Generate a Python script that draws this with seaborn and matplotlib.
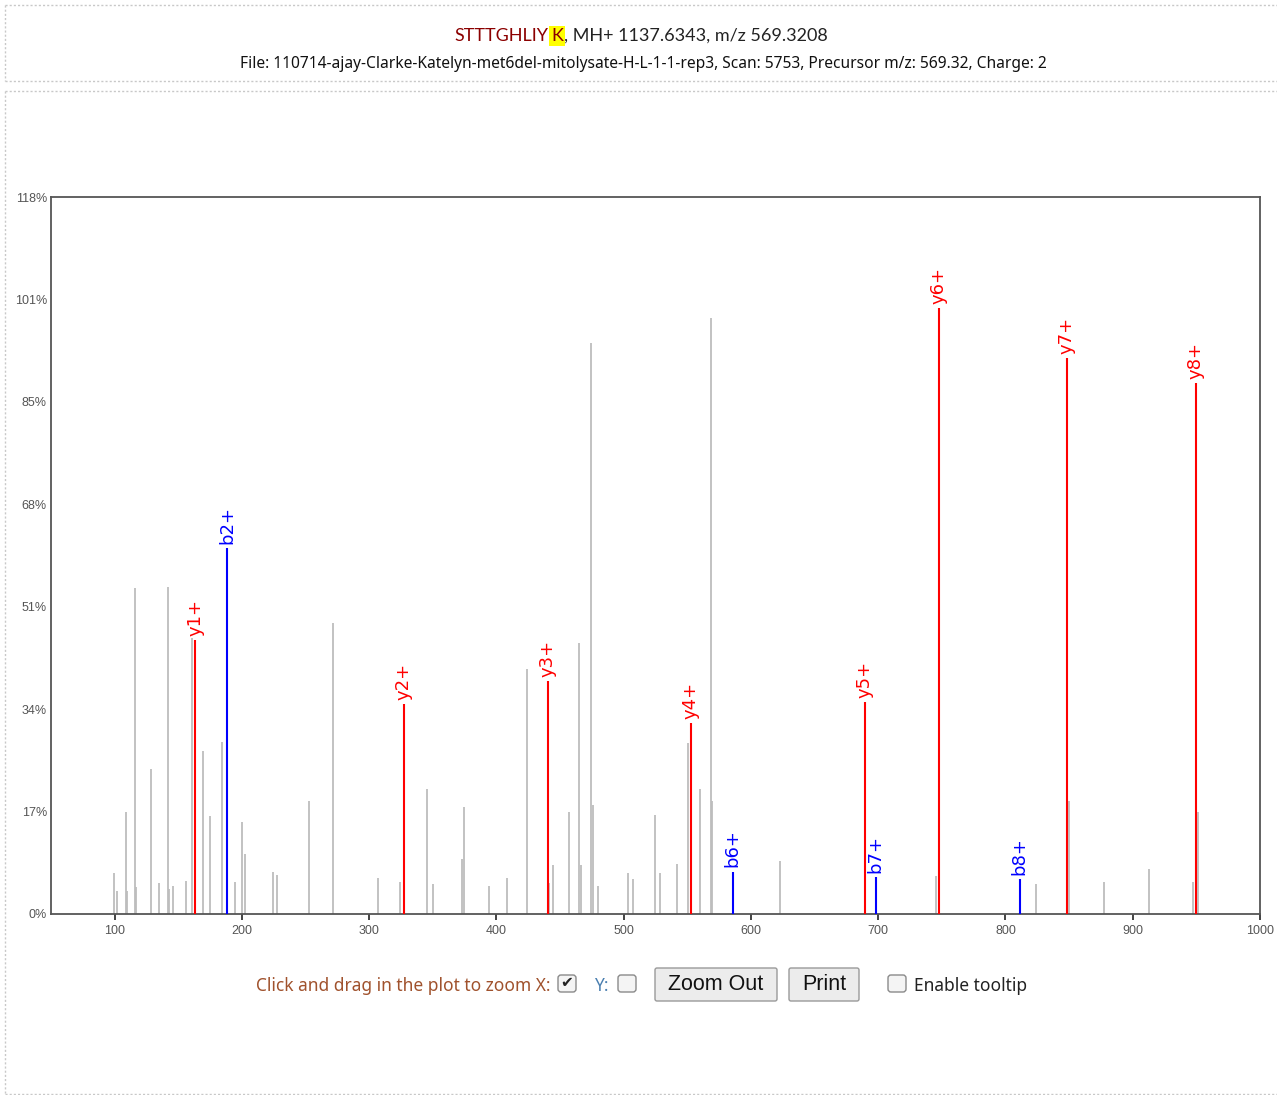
import matplotlib
matplotlib.use("Agg")
import matplotlib.pyplot as plt
import seaborn as sns
import numpy as np
import pandas as pd
from matplotlib.patches import FancyBboxPatch

# unmatched peaks: m/z and relative intensity (%)
peak_mz = [99.6, 102.2, 109.0, 110.1, 115.9, 116.9, 128.7, 135.2, 141.8, 143.1,
           145.8, 156.2, 160.7, 169.8, 175.1, 184.3, 194.7, 200.0, 202.6, 224.8,
           227.5, 252.9, 271.5, 306.6, 323.9, 345.1, 350.4, 373.0, 374.2, 393.9,
           408.6, 424.1, 441.6, 444.2, 457.3, 465.0, 466.2, 474.6, 475.7, 479.9,
           503.5, 507.4, 524.7, 528.6, 542.0, 550.9, 560.3, 568.4, 569.7, 622.6,
           745.1, 824.2, 849.6, 877.4, 912.7, 947.1, 951.3]
peak_int = [6.8, 3.8, 16.8, 3.8, 53.8, 4.5, 24.0, 5.1, 54.0, 4.1,
            4.6, 5.4, 45.5, 26.9, 16.2, 28.4, 5.2, 15.2, 9.9, 7.0,
            6.4, 18.7, 48.0, 5.9, 5.3, 20.7, 4.9, 9.1, 17.6, 4.6,
            5.9, 40.5, 5.1, 8.1, 16.8, 44.7, 8.1, 94.3, 18.0, 4.7,
            6.8, 5.7, 16.4, 6.8, 8.2, 28.2, 20.6, 98.4, 18.7, 8.7,
            6.3, 4.9, 18.7, 5.2, 7.4, 5.2, 16.8]

# matched fragment ions
ion_labels = ["y1+", "b2+", "y2+", "y3+", "y4+", "b6+", "y5+", "b7+", "y6+", "b8+", "y7+", "y8+"]
ion_mz = [163.3, 188.2, 327.0, 440.3, 552.7, 585.7, 689.5, 697.9, 747.6, 811.3, 848.3, 949.7]
ion_int = [45.2, 60.4, 34.7, 38.4, 31.5, 7.0, 35.0, 6.1, 100.0, 5.7, 91.8, 87.7]
ion_type = ["y", "b", "y", "y", "y", "b", "y", "b", "y", "b", "y", "y"]

x_ticks = [100, 200, 300, 400, 500, 600, 700, 800, 900, 1000]
y_max = 118.35

W, H = 1277, 1095


def main():
    sns.set_style("white")
    plt.rcParams["font.family"] = ["Liberation Sans", "DejaVu Sans"]

    peaks = pd.DataFrame({"mz": peak_mz, "intensity": peak_int})
    ions = pd.DataFrame({"label": ion_labels, "mz": ion_mz, "intensity": ion_int, "type": ion_type})
    palette = {"y": "#ff0000", "b": "#0000ff"}

    fig = plt.figure(figsize=(W / 100, H / 100), dpi=100)

    # page-like overlay in pixel coordinates
    ov = fig.add_axes([0, 0, 1, 1], zorder=-1)
    ov.set_xlim(0, W)
    ov.set_ylim(H, 0)
    ov.axis("off")

    dot = dict(color="#c8c8c8", lw=1, ls=(0, (1.5, 1.5)))
    ov.plot([5, W], [5, 5], **dot)
    ov.plot([5, W], [81, 81], **dot)
    ov.plot([5, 5], [5, 81], **dot)
    ov.plot([5, W], [91, 91], **dot)
    ov.plot([5, 5], [91, 1094], **dot)
    ov.plot([5, W], [1094, 1094], **dot)

    ax = fig.add_axes([51 / W, 1 - 914 / H, (1260 - 51) / W, (914 - 197) / H])

    ax.vlines(peaks["mz"], 0, peaks["intensity"], color="#bdbdbd", lw=1.3, zorder=2)
    for _, r in ions.iterrows():
        c = palette[r["type"]]
        ax.vlines(r["mz"], 0, r["intensity"], color=c, lw=1.5, zorder=3)
        ax.annotate(r["label"], (r["mz"], r["intensity"]), xytext=(0, 3),
                    textcoords="offset points", rotation=90, ha="center", va="bottom",
                    color=c, fontsize=13, family="DejaVu Sans")

    ax.set_xlim(50, 1000)
    ax.set_ylim(0, y_max)
    ax.set_xticks(x_ticks)
    ax.set_xticklabels([str(t) for t in x_ticks])
    yt = np.linspace(0, y_max, 8)
    ax.set_yticks(yt)
    ax.set_yticklabels([f"{t:.0f}%" for t in yt])
    ax.tick_params(axis="x", length=4, width=1.2, color="#222222", labelsize=9,
                   labelcolor="#555555", pad=4, direction="out", bottom=True)
    ax.tick_params(axis="y", length=0, labelsize=9, labelcolor="#555555", pad=3)
    for s in ax.spines.values():
        s.set_color("#555555")
        s.set_linewidth(1.3)

    # header
    fig.canvas.draw()
    r = fig.canvas.get_renderer()
    tkw = dict(fontsize=13, family="Lato", va="center", ha="left")
    t1 = ov.text(454, 36, "STTTGHLIY", color="#8b0000", **tkw)
    x = t1.get_window_extent(r).x1 + 3
    t2 = ov.text(x, 36, "K", color="#8b0000",
                 bbox=dict(facecolor="#ffff00", edgecolor="none", pad=1.5), **tkw)
    x = t2.get_window_extent(r).x1 + 1
    ov.text(x, 36, ", MH+ 1137.6343, m/z 569.3208", color="#222222", **tkw)
    ov.text(643, 64, "File: 110714-ajay-Clarke-Katelyn-met6del-mitolysate-H-L-1-1-rep3, "
                     "Scan: 5753, Precursor m/z: 569.32, Charge: 2",
            fontsize=11.2, family="Noto Sans", color="#111111", ha="center", va="center")

    # zoom controls under the plot
    ckw = dict(fontsize=12.5, family="Noto Sans", va="center", ha="left")
    ov.text(256, 986, "Click and drag in the plot to zoom X:", color="#a0522d", **ckw)
    ov.text(594, 986, "Y:", color="#4a7fb0", **ckw)
    ov.text(914, 986, "Enable tooltip", color="#222222", **ckw)
    for bx, checked in [(558, True), (618, False), (888, False)]:
        ov.add_patch(FancyBboxPatch((bx, 975), 18, 17, boxstyle="round,pad=0,rounding_size=3",
                                    facecolor="#f4f4f4", edgecolor="#8a8a8a", lw=1))
        if checked:
            ov.text(bx + 9, 983, "\u2714", ha="center", va="center", fontsize=11,
                    family="DejaVu Sans", color="#222222")
    for bx, bw, label in [(655, 122, "Zoom Out"), (789, 70, "Print")]:
        ov.add_patch(FancyBboxPatch((bx, 968), bw, 33, boxstyle="round,pad=0,rounding_size=2",
                                    facecolor="#ececec", edgecolor="#9a9a9a", lw=1))
        ov.text(bx + bw / 2, 985, label, ha="center", va="center", fontsize=15.5,
                family="Liberation Sans", color="#111111")

    fig.savefig("out.png", dpi=100)
    plt.close(fig)


if __name__ == "__main__":
    main()
